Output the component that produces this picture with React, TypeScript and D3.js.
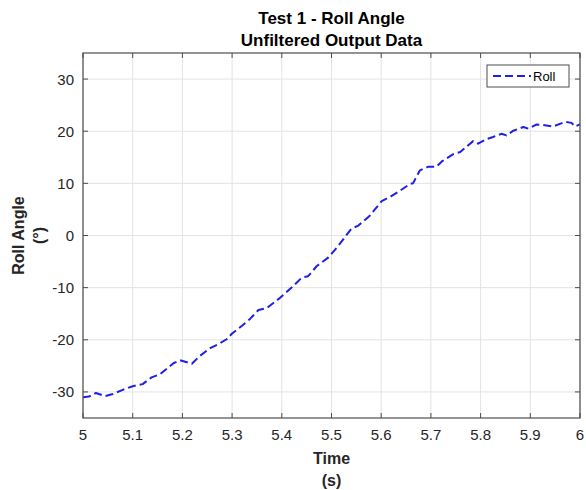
import React from "react";
import * as d3 from "d3";

const timeValues = [5.0, 5.012, 5.026, 5.044, 5.06, 5.08, 5.1, 5.12, 5.138, 5.155, 5.182, 5.195, 5.219, 5.235, 5.256, 5.275, 5.289, 5.3, 5.32, 5.336, 5.353, 5.37, 5.396, 5.423, 5.44, 5.453, 5.47, 5.494, 5.51, 5.524, 5.54, 5.554, 5.577, 5.601, 5.618, 5.638, 5.658, 5.664, 5.678, 5.695, 5.711, 5.722, 5.745, 5.759, 5.785, 5.795, 5.812, 5.825, 5.842, 5.852, 5.866, 5.886, 5.896, 5.913, 5.926, 5.946, 5.97, 5.983, 5.99, 6.0];
const rollValues = [-31.0, -30.9, -30.2, -30.8, -30.4, -29.6, -28.9, -28.5, -27.2, -26.6, -24.5, -23.9, -24.6, -23.1, -21.6, -20.7, -19.9, -18.8, -17.3, -16.0, -14.3, -13.9, -12.0, -9.7, -8.1, -7.8, -5.9, -4.2, -2.4, -0.7, 1.3, 1.9, 3.8, 6.6, 7.4, 8.6, 9.9, 10.0, 12.5, 13.2, 13.2, 14.2, 15.6, 16.0, 18.1, 17.6, 18.5, 18.9, 19.5, 19.2, 20.1, 20.8, 20.5, 21.3, 21.2, 20.9, 21.8, 21.6, 20.9, 21.3];
const xTicks = [5, 5.1, 5.2, 5.3, 5.4, 5.5, 5.6, 5.7, 5.8, 5.9, 6];
const yTicks = [-30, -20, -10, 0, 10, 20, 30];
const titleLines = ["Test 1 - Roll Angle", "Unfiltered Output Data"];
const xLabelLines = ["Time", "(s)"];
const yLabelLines = ["Roll Angle", "(°)"];
const seriesName = "Roll";

const W = 586;
const H = 490;
const M = { left: 83, right: 580, top: 53, bottom: 418 };
const FONT = "'Liberation Sans', Arial, Helvetica, sans-serif";
const AXIS = "#4d4d4d";
const GRID = "#e3e3e3";
const LINE = "#1f1fe6";

export default function App() {
  const x = d3.scaleLinear().domain([5, 6]).range([M.left, M.right]);
  const y = d3.scaleLinear().domain([-35, 35]).range([M.bottom, M.top]);
  const pts: [number, number][] = timeValues.map((t, i) => [t, rollValues[i]]);
  const line = d3
    .line<[number, number]>()
    .x((d) => x(d[0]))
    .y((d) => y(d[1]));
  const tickLen = 5;

  return (
    <svg
      width={W}
      height={H}
      style={{ position: "absolute", left: 0, top: 0, background: "#fff" }}
      fontFamily={FONT}
    >
      <rect x={0} y={0} width={W} height={H} fill="#fff" />
      {xTicks.map((t) => (
        <line key={"gx" + t} x1={x(t)} x2={x(t)} y1={M.top} y2={M.bottom} stroke={GRID} strokeWidth={1} />
      ))}
      {yTicks.map((t) => (
        <line key={"gy" + t} x1={M.left} x2={M.right} y1={y(t)} y2={y(t)} stroke={GRID} strokeWidth={1} />
      ))}
      <path
        d={line(pts) || ""}
        fill="none"
        stroke={LINE}
        strokeWidth={2}
        strokeDasharray="8,4"
        strokeLinejoin="round"
      />
      <rect
        x={M.left}
        y={M.top}
        width={M.right - M.left}
        height={M.bottom - M.top}
        fill="none"
        stroke={AXIS}
        strokeWidth={1.2}
      />
      {xTicks.map((t) => (
        <g key={"tx" + t}>
          <line x1={x(t)} x2={x(t)} y1={M.bottom} y2={M.bottom - tickLen} stroke={AXIS} />
          <line x1={x(t)} x2={x(t)} y1={M.top} y2={M.top + tickLen} stroke={AXIS} />
          <text x={x(t)} y={M.bottom + 22} textAnchor="middle" fontSize={15} fill="#262626">
            {t}
          </text>
        </g>
      ))}
      {yTicks.map((t) => (
        <g key={"ty" + t}>
          <line x1={M.left} x2={M.left + tickLen} y1={y(t)} y2={y(t)} stroke={AXIS} />
          <line x1={M.right} x2={M.right - tickLen} y1={y(t)} y2={y(t)} stroke={AXIS} />
          <text x={M.left - 9} y={y(t) + 5.5} textAnchor="end" fontSize={15} fill="#262626">
            {t}
          </text>
        </g>
      ))}
      {titleLines.map((s, i) => (
        <text
          key={"t" + i}
          x={(M.left + M.right) / 2}
          y={24 + i * 22}
          textAnchor="middle"
          fontSize={17}
          fontWeight="bold"
          fill="#000"
        >
          {s}
        </text>
      ))}
      {xLabelLines.map((s, i) => (
        <text
          key={"xl" + i}
          x={(M.left + M.right) / 2}
          y={464 + i * 22}
          textAnchor="middle"
          fontSize={16}
          fontWeight="bold"
          fill="#262626"
        >
          {s}
        </text>
      ))}
      {yLabelLines.map((s, i) => (
        <text
          key={"yl" + i}
          transform={`translate(${24 + i * 21},${(M.top + M.bottom) / 2}) rotate(-90)`}
          textAnchor="middle"
          fontSize={16}
          fontWeight="bold"
          fill="#262626"
        >
          {s}
        </text>
      ))}
      <g>
        <rect x={487} y={65} width={82} height={22} fill="#fff" stroke={AXIS} strokeWidth={1} />
        <line x1={493} x2={531} y1={76} y2={76} stroke={LINE} strokeWidth={2} strokeDasharray="8,4" />
        <text x={533} y={81} fontSize={13} fill="#000">
          {seriesName}
        </text>
      </g>
    </svg>
  );
}
